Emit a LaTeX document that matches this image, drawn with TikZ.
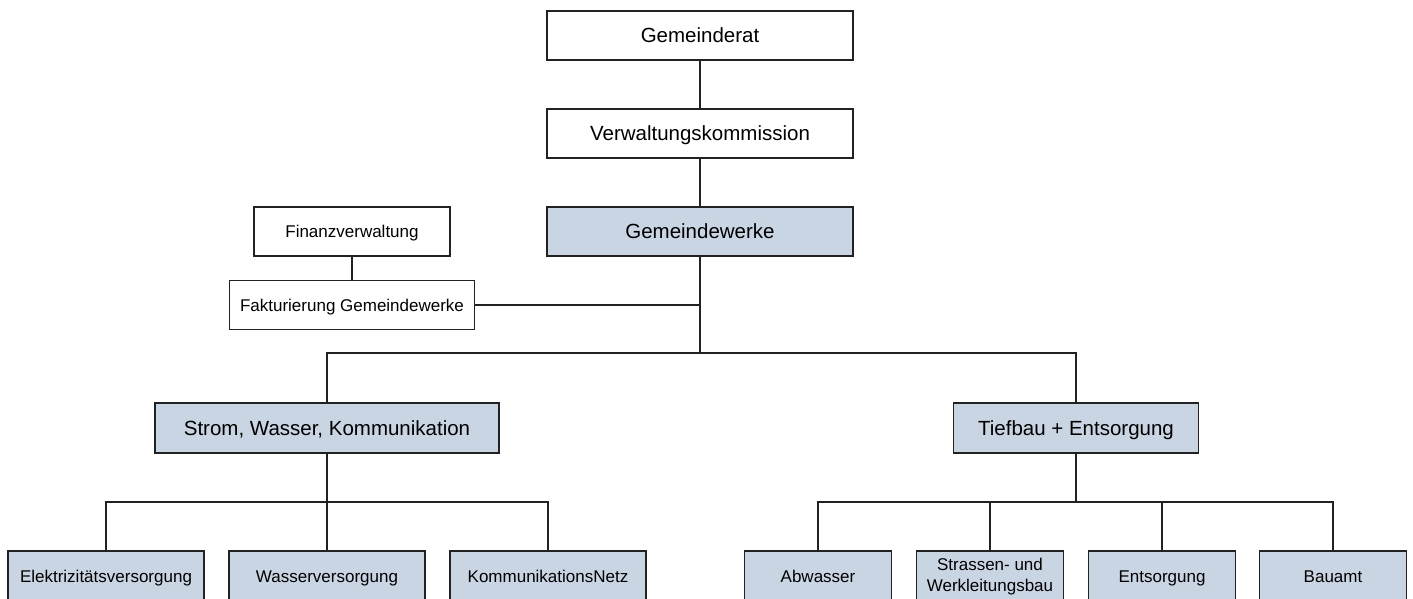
\documentclass[tikz,border=0pt]{standalone}
\usepackage{fontspec}
\setmainfont{Liberation Sans}
\definecolor{boxfill}{HTML}{CAD5E4}
\definecolor{edge}{HTML}{222222}
\tikzset{
  box/.style={draw=edge, line width=1.4pt, rectangle, inner sep=0pt, align=center, fill=white},
  bluebox/.style={box, fill=boxfill},
  big/.style={font=\fontsize{20.5}{24}\selectfont, text height=19.7pt, text depth=5pt},
  small/.style={font=\fontsize{17}{21}\selectfont, text height=16.2pt, text depth=4pt},
  smalltwo/.style={font=\fontsize{17}{21}\selectfont},
  conn/.style={draw=edge, line width=1.4pt}
}
\begin{document}
\begin{tikzpicture}[x=1pt,y=-1pt]
\useasboundingbox (0,0) rectangle (1413,599);
\clip (0,0) rectangle (1413,599);
% top chain
\node[box,big,minimum width=306,minimum height=49] (gr) at (700,35.5) {Gemeinderat};
\node[box,big,minimum width=306,minimum height=49] (vk) at (700,133.5) {Verwaltungskommission};
\node[bluebox,big,minimum width=306,minimum height=49] (gw) at (700,231.5) {Gemeindewerke};
\node[box,small,minimum width=196,minimum height=49] (fv) at (352,231.5) {Finanzverwaltung};
\node[box,small,minimum width=245,minimum height=49] (fk) at (352,305) {Fakturierung Gemeindewerke};
% second level
\node[bluebox,big,minimum width=344,minimum height=50] (swk) at (327,428) {Strom, Wasser, Kommunikation};
\node[bluebox,big,minimum width=245,minimum height=50] (tbe) at (1076,428) {Tiefbau + Entsorgung};
% bottom level left
\node[bluebox,small,minimum width=196,minimum height=51] (el) at (106,576.5) {Elektrizitätsversorgung};
\node[bluebox,small,minimum width=196,minimum height=51] (wv) at (327,576.5) {Wasserversorgung};
\node[bluebox,small,minimum width=196,minimum height=51] (kn) at (548,576.5) {KommunikationsNetz};
% bottom level right
\node[bluebox,small,minimum width=147,minimum height=51] (ab) at (818,576.5) {Abwasser};
\node[bluebox,smalltwo,minimum width=147,minimum height=51] (sw) at (990,576.5) {Strassen- und\\Werkleitungsbau};
\node[bluebox,small,minimum width=147,minimum height=51] (en) at (1162,576.5) {Entsorgung};
\node[bluebox,small,minimum width=147,minimum height=51] (ba) at (1333,576.5) {Bauamt};
% junctions
\coordinate (j1) at (700,305);
\coordinate (j2) at (700,353);
\coordinate (j3) at (327,502);
\coordinate (j4) at (1076,502);
% connectors
\draw[conn] (gr.south) -- (vk.north);
\draw[conn] (vk.south) -- (gw.north);
\draw[conn] (gw.south) -- (j2);
\draw[conn] (fv.south) -- (fk.north);
\draw[conn] (fk.east) -- (j1);
\draw[conn] (swk.north) |- (j2) -| (tbe.north);
\draw[conn] (swk.south) -- (wv.north);
\draw[conn] (el.north) |- (j3) -| (kn.north);
\draw[conn] (tbe.south) -- (j4);
\draw[conn] (ab.north) |- (j4) -| (ba.north);
\draw[conn] (sw.north) -- (sw.north |- j4);
\draw[conn] (en.north) -- (en.north |- j4);
\end{tikzpicture}
\end{document}
